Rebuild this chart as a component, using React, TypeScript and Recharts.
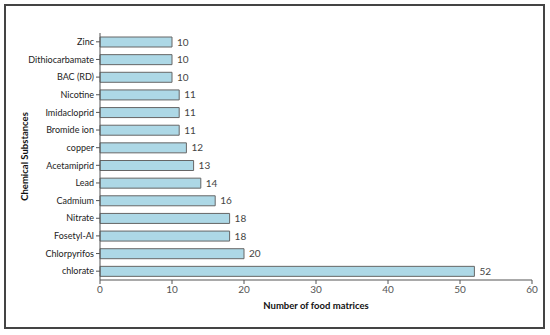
import { BarChart, Bar, XAxis, YAxis, LabelList } from 'recharts';

const substances = ['Zinc', 'Dithiocarbamate', 'BAC (RD)', 'Nicotine', 'Imidacloprid', 'Bromide ion', 'copper', 'Acetamiprid', 'Lead', 'Cadmium', 'Nitrate', 'Fosetyl-Al', 'Chlorpyrifos', 'chlorate'];
const matrices = [10, 10, 10, 11, 11, 11, 12, 13, 14, 16, 18, 18, 20, 52];
const xTicks = [0, 10, 20, 30, 40, 50, 60];

const data = substances.map((name, i) => ({ name, value: matrices[i] }));

const font = 'Lato, "Open Sans", sans-serif';

const YTitle = (props: any) => {
  const vb = props.viewBox;
  const cx = 26;
  const cy = vb.y + vb.height / 2;
  return (
    <text x={cx} y={cy} transform={`rotate(-90 ${cx} ${cy})`} textAnchor="middle" dominantBaseline="middle"
      fontFamily={font} fontSize={9.5} fontWeight="bold" fill="#111">
      Chemical Substances
    </text>
  );
};

export default function App() {
  return (
    <div style={{ position: 'absolute', left: 0, top: 0, width: 550, height: 335, background: '#fff' }}>
      <BarChart width={550} height={335} data={data} layout="vertical"
        margin={{ top: 33, right: 18, bottom: 25, left: 0 }} barCategoryGap={0}>
        <XAxis type="number" domain={[0, 60]} ticks={xTicks} stroke="#555" tickSize={4}
          tick={{ fontSize: 10, fill: '#555', fontFamily: font }} height={30}
          label={{ value: 'Number of  food matrices', position: 'insideBottom', offset: 1, fontSize: 9.5, fontWeight: 'bold', fill: '#111', fontFamily: font }} />
        <YAxis type="category" dataKey="name" width={100} stroke="#555" tickSize={4}
          tick={{ fontSize: 9, fill: '#222', fontFamily: font }} interval={0}
          label={{ content: YTitle }} />
        <Bar dataKey="value" fill="#ADD8E6" stroke="#666" strokeWidth={1} barSize={10} isAnimationActive={false}>
          <LabelList dataKey="value" position="right" offset={5} style={{ fontSize: 10, fill: '#444', fontFamily: font }} />
        </Bar>
      </BarChart>
      <div style={{ position: 'absolute', left: 4, top: 4, width: 541, height: 325, boxSizing: 'border-box', border: '2px solid #444', pointerEvents: 'none', zIndex: 2 }} />
    </div>
  );
}
